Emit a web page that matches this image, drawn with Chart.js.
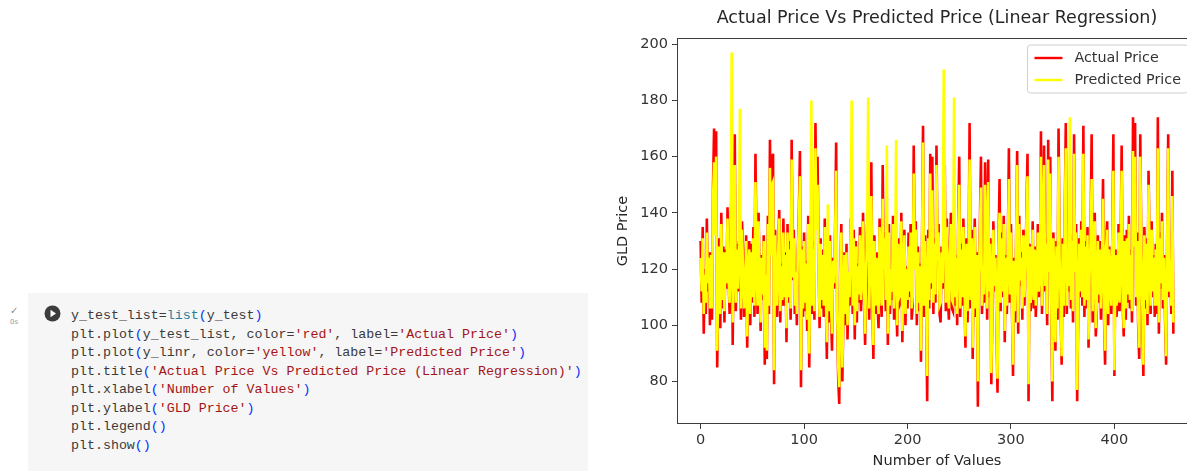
<!DOCTYPE html>
<html>
<head>
<meta charset="utf-8">
<script src="https://cdn.jsdelivr.net/npm/chart.js@4/dist/chart.umd.min.js"></script>
<style>
  html, body { margin: 0; padding: 0; background: #fff; }
  body { position: relative; width: 1187px; height: 471px; overflow: hidden; }
  .cell { position: absolute; left: 28px; top: 293px; width: 560px; height: 190px; background: #f6f6f6; }
  .gutter-check { position: absolute; left: 10px; top: 306px; font: 10px "DejaVu Sans"; color: #8a8a8a; line-height: 10px; }
  .gutter-time { position: absolute; left: 10px; top: 318px; font: 7px "DejaVu Sans"; color: #9a9a9a; }
  .run { position: absolute; left: 44px; top: 305px; }
  pre.code { position: absolute; left: 71px; top: 307px; margin: 0; font: 13.3px/18.5px "Liberation Mono", monospace; color: #3a3a3a; }
  .s { color: #a31515; }
  .p { color: #0431fa; }
  .b { color: #267f99; }
  #wrap { position: absolute; left: 580px; top: 0; width: 627px; height: 471px; }
</style>
</head>
<body>
<div class="cell"></div>
<div class="gutter-check">✓</div>
<div class="gutter-time">0s</div>
<svg class="run" width="17" height="17" viewBox="0 0 17 17"><circle cx="8.5" cy="8.5" r="8" fill="#3c3c3c"/><path d="M6.5 4.8 L12 8.5 L6.5 12.2 Z" fill="#fff"/></svg>
<pre class="code">y_test_list=<span class="b">list</span><span class="p">(</span>y_test<span class="p">)</span>
plt.plot<span class="p">(</span>y_test_list, color=<span class="s">'red'</span>, label=<span class="s">'Actual Price'</span><span class="p">)</span>
plt.plot<span class="p">(</span>y_linr, color=<span class="s">'yellow'</span>, label=<span class="s">'Predicted Price'</span><span class="p">)</span>
plt.title<span class="p">(</span><span class="s">'Actual Price Vs Predicted Price (Linear Regression)'</span><span class="p">)</span>
plt.xlabel<span class="p">(</span><span class="s">'Number of Values'</span><span class="p">)</span>
plt.ylabel<span class="p">(</span><span class="s">'GLD Price'</span><span class="p">)</span>
plt.legend<span class="p">()</span>
plt.show<span class="p">()</span></pre>
<div id="wrap"><canvas id="chart" width="627" height="471"></canvas></div>
<script>
// values, one per test sample
const actualPrice = [
  130, 108, 135, 97, 120, 104, 138, 112, 126, 100,
  126, 102, 150, 170, 135, 169, 85, 110, 131, 99,
  140, 106, 128, 101, 127, 113, 142, 118, 104, 125,
  160, 93, 138, 168, 105, 129, 112, 130, 123, 102,
  137, 127, 103, 107, 132, 92, 118, 130, 100, 129,
  108, 135, 103, 161, 125, 104, 140, 116, 98, 125,
  109, 132, 86, 117, 88, 139, 104, 166, 126, 159,
  161, 79, 134, 112, 103, 128, 141, 101, 122, 107,
  138, 107, 126, 94, 136, 108, 130, 102, 166, 116,
  134, 104, 119, 100, 127, 140, 162, 78, 128, 103,
  133, 105, 123, 98, 139, 85, 121, 126, 104, 130,
  102, 172, 137, 160, 124, 99, 131, 106, 127, 103,
  138, 110, 88, 125, 101, 132, 105, 91, 124, 113,
  134, 165, 102, 81, 72, 118, 136, 80, 104, 126,
  100, 129, 95, 119, 107, 138, 121, 104, 134, 95,
  130, 101, 122, 108, 135, 105, 117, 140, 110, 93,
  120, 136, 119, 102, 130, 158, 109, 88, 132, 104,
  126, 108, 99, 138, 112, 103, 157, 121, 133, 105,
  128, 93, 136, 104, 120, 109, 139, 102, 122, 112,
  96, 131, 107, 108, 140, 94, 119, 134, 100, 121,
  106, 133, 110, 136, 102, 107, 164, 120, 137, 100,
  128, 105, 122, 87, 128, 171, 103, 132, 110, 73,
  134, 106, 161, 113, 160, 104, 131, 108, 164, 124,
  136, 104, 101, 128, 113, 124, 157, 105, 138, 110,
  102, 129, 140, 106, 105, 132, 107, 125, 100, 136,
  160, 103, 129, 107, 138, 115, 92, 131, 101, 118,
  172, 106, 134, 88, 119, 138, 103, 126, 71, 117,
  136, 160, 104, 122, 108, 158, 132, 102, 159, 110,
  131, 79, 104, 137, 112, 125, 100, 76, 129, 152,
  105, 133, 110, 139, 94, 125, 104, 128, 163, 108,
  136, 106, 82, 124, 101, 131, 162, 97, 139, 114,
  126, 102, 134, 107, 123, 140, 161, 73, 129, 105,
  113, 137, 106, 128, 103, 115, 136, 110, 120, 169,
  104, 134, 164, 112, 131, 100, 166, 119, 160, 105,
  73, 133, 110, 91, 130, 102, 170, 125, 106, 86,
  131, 103, 138, 172, 104, 128, 112, 127, 106, 132,
  101, 168, 119, 136, 73, 104, 131, 110, 137, 107,
  171, 103, 130, 106, 135, 92, 118, 133, 168, 101,
  129, 140, 96, 105, 132, 108, 130, 102, 124, 152,
  103, 86, 130, 137, 100, 128, 115, 104, 131, 168,
  82, 127, 103, 109, 136, 105, 126, 164, 108, 96,
  132, 102, 134, 108, 139, 106, 127, 101, 174, 130,
  172, 107, 133, 100, 88, 168, 129, 103, 82, 135,
  106, 131, 100, 155, 128, 104, 137, 110, 125, 103,
  129, 104, 174, 97, 133, 113, 140, 106, 125, 102,
  86, 131, 168, 110, 124, 104, 155, 97
];

const predictedPrice = [
  124, 112, 131, 104, 118, 108, 133, 115, 124, 106,
  125, 106, 145, 158, 132, 160, 91, 112, 128, 104,
  136, 109, 126, 105, 126, 115, 138, 117, 108, 123,
  197, 101, 134, 157, 108, 127, 113, 128, 177, 106,
  134, 120, 106, 110, 130, 96, 118, 127, 104, 126,
  110, 131, 107, 151, 124, 107, 137, 116, 101, 124,
  111, 130, 92, 118, 91, 136, 107, 156, 125, 150,
  151, 84, 132, 114, 107, 126, 138, 105, 121, 109,
  133, 110, 125, 99, 133, 110, 127, 106, 159, 117,
  131, 107, 119, 104, 125, 137, 153, 84, 127, 106,
  130, 108, 122, 102, 136, 90, 121, 180, 107, 127,
  105, 163, 134, 150, 123, 103, 129, 109, 125, 107,
  135, 112, 94, 143, 105, 130, 108, 97, 123, 115,
  132, 155, 105, 86, 78, 118, 133, 85, 107, 125,
  104, 126, 100, 119, 110, 135, 180, 107, 131, 100,
  128, 105, 121, 111, 132, 109, 117, 137, 112, 97,
  120, 133, 181, 106, 127, 146, 112, 93, 130, 107,
  124, 111, 104, 135, 114, 107, 145, 120, 131, 109,
  164, 97, 133, 107, 120, 112, 136, 106, 121, 166,
  100, 129, 110, 111, 137, 98, 119, 132, 104, 120,
  109, 128, 112, 133, 106, 110, 154, 120, 134, 104,
  126, 108, 121, 91, 126, 165, 107, 130, 112, 82,
  131, 109, 154, 115, 148, 108, 129, 111, 157, 123,
  133, 107, 108, 126, 115, 191, 150, 108, 135, 112,
  106, 126, 136, 109, 108, 181, 110, 124, 104, 133,
  150, 106, 127, 110, 135, 116, 96, 129, 105, 118,
  159, 109, 131, 92, 119, 135, 106, 125, 80, 118,
  133, 149, 107, 121, 111, 150, 130, 106, 151, 112,
  129, 83, 107, 134, 114, 124, 104, 81, 128, 140,
  108, 131, 112, 136, 98, 124, 107, 127, 152, 111,
  133, 109, 86, 123, 105, 129, 157, 101, 136, 116,
  124, 106, 132, 110, 122, 137, 153, 79, 128, 108,
  115, 134, 109, 127, 107, 116, 133, 112, 120, 160,
  107, 132, 157, 114, 129, 104, 159, 119, 154, 108,
  80, 131, 112, 94, 128, 106, 160, 124, 109, 89,
  129, 107, 135, 163, 107, 127, 114, 174, 109, 130,
  105, 161, 119, 133, 77, 107, 129, 112, 134, 110,
  161, 107, 128, 109, 132, 95, 118, 131, 152, 105,
  127, 137, 99, 108, 130, 111, 127, 106, 123, 145,
  107, 91, 128, 134, 104, 127, 116, 107, 129, 155,
  84, 125, 107, 112, 133, 108, 124, 155, 111, 99,
  130, 106, 131, 111, 136, 109, 125, 105, 162, 128,
  160, 110, 130, 104, 92, 160, 127, 107, 86, 132,
  109, 129, 104, 150, 127, 107, 134, 112, 124, 107,
  127, 107, 163, 101, 131, 115, 137, 109, 124, 106,
  89, 129, 163, 112, 123, 107, 146, 101
];

const xTicks = [0, 100, 200, 300, 400];
const yTicks = [80, 100, 120, 140, 160, 180, 200];

const titleText = 'Actual Price Vs Predicted Price (Linear Regression)';
const xLabel = 'Number of Values';
const yLabel = 'GLD Price';

const FONT = 'DejaVu Sans';
const AXIS_COLOR = '#3d3d3d';

// box around the whole plot area (matplotlib spines)
const spines = {
  id: 'spines',
  afterDatasetsDraw(chart) {
    const { ctx, chartArea: a } = chart;
    ctx.save();
    ctx.strokeStyle = AXIS_COLOR;
    ctx.lineWidth = 1;
    ctx.strokeRect(a.left + 0.5, a.top + 0.5, a.right - a.left - 1, a.bottom - a.top - 1);
    ctx.restore();
  },
};

// matplotlib-style legend in the upper right corner
const mplLegend = {
  id: 'mplLegend',
  afterDatasetsDraw(chart) {
    const { ctx, chartArea: a } = chart;
    const items = chart.data.datasets;
    ctx.save();
    ctx.font = '14.3px "' + FONT + '"';
    const textW = Math.max(...items.map((d) => ctx.measureText(d.label).width));
    const handle = 28, gap = 12, pad = 7, rowH = 22;
    const w = pad + handle + gap + textW + pad;
    const h = items.length * rowH + 4;
    const x = a.right - 9 - w;
    const y = a.top + 7;
    ctx.beginPath();
    ctx.roundRect(x, y, w, h, 3);
    ctx.fillStyle = 'rgba(255,255,255,0.8)';
    ctx.fill();
    ctx.strokeStyle = '#d0d0d0';
    ctx.lineWidth = 1;
    ctx.stroke();
    items.forEach((d, i) => {
      const cy = y + 13 + i * rowH;
      ctx.beginPath();
      ctx.moveTo(x + pad, cy);
      ctx.lineTo(x + pad + handle, cy);
      ctx.strokeStyle = d.borderColor;
      ctx.lineWidth = 2.4;
      ctx.stroke();
      ctx.fillStyle = '#333';
      ctx.textBaseline = 'middle';
      ctx.fillText(d.label, x + pad + handle + gap, cy);
    });
    ctx.restore();
  },
};

const toPoints = (arr) => arr.map((v, i) => ({ x: i, y: v }));

new Chart(document.getElementById('chart'), {
  type: 'line',
  data: {
    datasets: [
      {
        label: 'Actual Price',
        data: toPoints(actualPrice),
        borderColor: 'red',
        borderWidth: 2.6,
        pointRadius: 0,
        tension: 0,
        order: 2,
      },
      {
        label: 'Predicted Price',
        data: toPoints(predictedPrice),
        borderColor: 'yellow',
        borderWidth: 2.6,
        pointRadius: 0,
        tension: 0,
        order: 1,
      },
    ],
  },
  options: {
    responsive: false,
    devicePixelRatio: 1,
    animation: false,
    layout: { padding: { left: 33, right: 10, top: 0, bottom: 0 } },
    plugins: {
      legend: { display: false },
      tooltip: { enabled: false },
      title: {
        display: true,
        text: titleText,
        fullSize: false,
        color: '#262626',
        font: { family: FONT, size: 17.5, weight: 'normal', lineHeight: 1.2 },
        padding: { top: 8, bottom: 9 },
      },
    },
    scales: {
      x: {
        type: 'linear',
        min: -22.85,
        max: 479.85,
        afterFit(scale) { scale.height = 47; },
        afterBuildTicks(scale) { scale.ticks = xTicks.map((v) => ({ value: v })); },
        grid: { drawOnChartArea: false, drawTicks: true, tickLength: 5, color: AXIS_COLOR },
        border: { display: false },
        ticks: { color: '#333', padding: 3, maxRotation: 0, font: { family: FONT, size: 14.5 } },
        title: { display: true, text: xLabel, color: '#262626', padding: { top: 0, bottom: 1 }, font: { family: FONT, size: 14.5 } },
      },
      y: {
        min: 64.9,
        max: 202.2,
        afterFit(scale) { scale.width = 64; },
        afterBuildTicks(scale) { scale.ticks = yTicks.map((v) => ({ value: v })); },
        grid: { drawOnChartArea: false, drawTicks: true, tickLength: 5, color: AXIS_COLOR },
        border: { display: false },
        ticks: { color: '#333', padding: 4, font: { family: FONT, size: 14.5 } },
        title: { display: true, text: yLabel, color: '#262626', padding: { top: 2, bottom: 0 }, font: { family: FONT, size: 14.5 } },
      },
    },
  },
  plugins: [spines, mplLegend],
});
</script>
</body>
</html>
